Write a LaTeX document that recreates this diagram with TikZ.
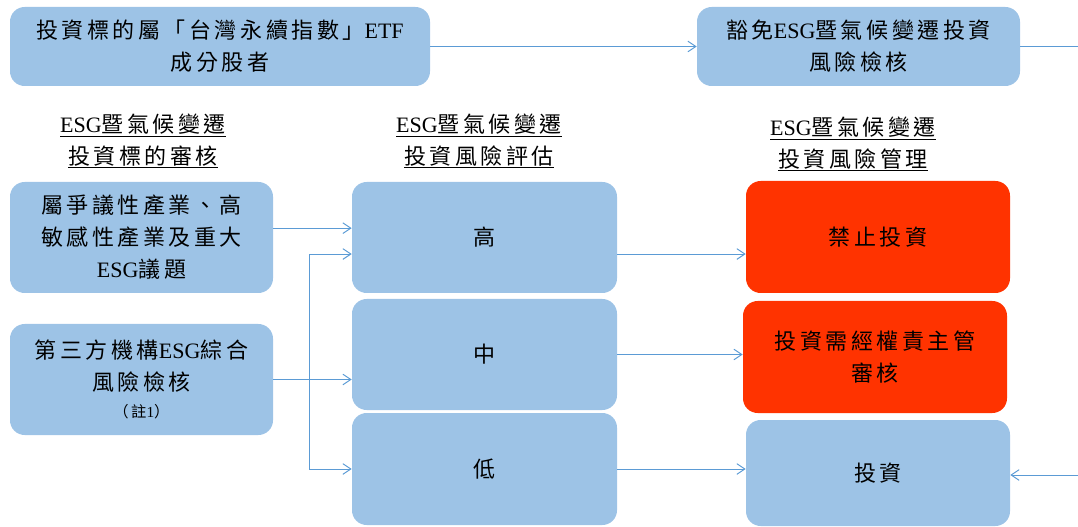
\documentclass[tikz,border=0pt]{standalone}
\usepackage{fontspec}
\setmainfont{Noto Sans CJK TC}[LetterSpace=16]
\newfontfamily\latin{Liberation Serif}
\usetikzlibrary{arrows.meta}
\definecolor{boxblue}{HTML}{9DC3E6}
\definecolor{boxred}{HTML}{FF3300}
\definecolor{lineblue}{HTML}{5B9BD5}
\newcommand{\esg}{{\latin ESG}}

\begin{document}
\begin{tikzpicture}[x=0.75pt, y=-0.75pt,
    box/.style={fill=boxblue, rounded corners=11pt, align=center, inner sep=0pt,
      font=\fontsize{16.5}{24}\selectfont},
    redbox/.style={box, fill=boxred},
    head/.style={align=center, font=\fontsize{16.5}{24}\selectfont},
    flow/.style={draw=lineblue, line width=0.75pt, -{Straight Barb[length=6pt,width=8pt]}}]
  \useasboundingbox (0,0) rectangle (1078,527);

  % top row
  \node [box, minimum width=315pt, minimum height=59.25pt] (source) at (220,46.5)
    {投資標的屬「台灣永續指數」{\latin ETF}\\成分股者};
  \node [box, minimum width=242.25pt, minimum height=59.25pt] (exempt) at (858.5,46.5)
    {豁免\esg 暨氣候變遷投資\\風險檢核};

  % column headers
  \node [head] (h1) at (143,141) {\underline{\esg 暨氣候變遷}\\\underline{投資標的審核}};
  \node [head] (h2) at (479,141) {\underline{\esg 暨氣候變遷}\\\underline{投資風險評估}};
  \node [head] (h3) at (853,144) {\underline{\esg 暨氣候變遷}\\\underline{投資風險管理}};

  % screening
  \node [box, minimum width=197.25pt, minimum height=83.25pt] (sector) at (141.5,237.5)
    {屬爭議性產業、高\\敏感性產業及重大\\\esg 議題};
  \node [box, minimum width=197.25pt, minimum height=83.25pt] (third) at (141.5,379.5)
    {第三方機構\esg 綜合\\風險檢核\\[-4pt]{\fontsize{11.5}{13}\selectfont （註{\latin 1}）}};

  % risk levels
  \node [box, minimum width=198.75pt, minimum height=83.25pt] (high) at (484.5,237.5) {高};
  \node [box, minimum width=198.75pt, minimum height=83.25pt] (mid) at (484.5,354.5) {中};
  \node [box, minimum width=198.75pt, minimum height=84pt] (low) at (484.5,469) {低};

  % management
  \node [redbox, minimum width=198pt, minimum height=84pt] (ban) at (878,237) {禁止投資};
  \node [redbox, minimum width=198pt, minimum height=84pt] (review) at (875,357)
    {投資需經權責主管\\審核};
  \node [box, minimum width=198pt, minimum height=79.5pt] (invest) at (878,473) {投資};

  \coordinate (fork) at (309,379.5);
  \coordinate (edgetop) at (1078,46.5);
  \coordinate (edgebot) at (1078,475);

  \draw [flow] (source) -- (exempt);
  \draw [flow, -] (exempt) -- (edgetop);
  \draw [flow] (edgebot) -- (edgebot -| invest.east);

  \draw [flow] ([yshift=7pt]sector.east) -- ([yshift=7pt]sector.east -| high.west);
  \draw [flow] (third.east) -- (third.east -| mid.west);
  \draw [flow] (fork) |- ([yshift=-12.4pt]high.west);
  \draw [flow] (fork) |- (low.west);

  \draw [flow] ([yshift=-12.4pt]high.east) -- ([yshift=-12.4pt]high.east -| ban.west);
  \draw [flow] (mid.east) -- (mid.east -| review.west);
  \draw [flow] (low.east) -- (low.east -| invest.west);
\end{tikzpicture}
\end{document}
